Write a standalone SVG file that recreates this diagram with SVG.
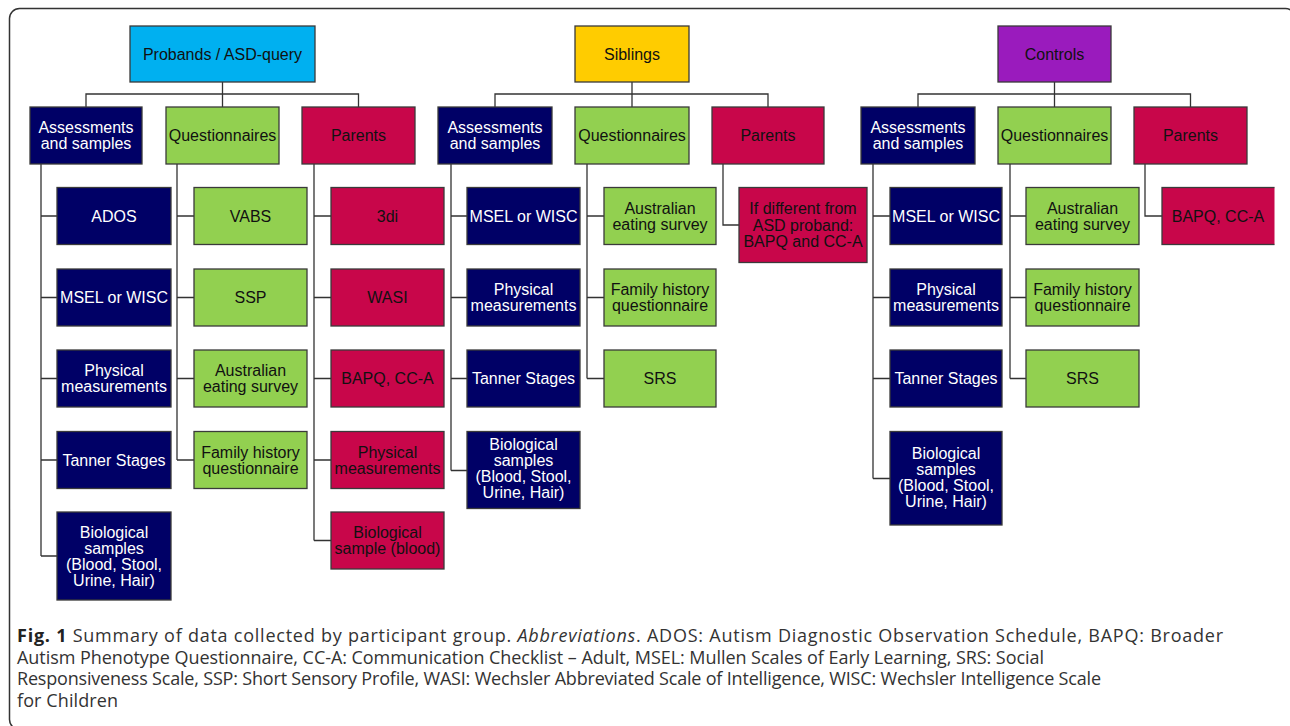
<svg xmlns="http://www.w3.org/2000/svg" width="1290" height="726" viewBox="0 0 1290 726">
<defs>
<style>
.b{stroke:#3a3a3a;stroke-width:1.3}
.top1{fill:#00B0F0}.top2{fill:#FFCC00}.top3{fill:#9A1BBD}
.nv{fill:#000066}.gr{fill:#92D050}.rd{fill:#C8064A}
text{font-family:"Liberation Sans",Arial,sans-serif;font-size:16px;text-anchor:middle}
.w{fill:#ffffff}.k{fill:#111111}
.c{fill:none;stroke:#333333;stroke-width:1.3}
.cap{font-family:"Open Sans","Noto Sans",sans-serif;font-size:18px;text-anchor:start;fill:#333333}
</style>
<clipPath id="clipR"><rect x="0" y="0" width="1274.5" height="726"/></clipPath>
</defs>
<rect x="0" y="0" width="1290" height="726" fill="#ffffff"/>
<rect x="9.5" y="8.5" width="1286" height="721" rx="10" ry="10" fill="none" stroke="#333333" stroke-width="1.5"/>

<g id="connectors" class="c">
<path d="M222.5 82V107M86 107V94H358.5V107"/>
<path d="M41 164V556M41 216H57M41 297.5H57M41 378.5H57M41 460H57M41 556H57"/>
<path d="M177 164V460M177 216H194M177 297.5H194M177 378.5H194M177 460H194"/>
<path d="M314 164V540.5M314 216H331M314 297.5H331M314 378.5H331M314 460H331M314 540.5H331"/>
<path d="M632 82V107M495 107V94H768V107"/>
<path d="M451 164V470.5M451 216H467M451 297.5H467M451 378.5H467M451 470.5H467"/>
<path d="M587 164V378.5M587 216H604M587 297.5H604M587 378.5H604"/>
<path d="M723 164V225H739"/>
<path d="M1054.5 82V107M918 107V94H1190.5V107"/>
<path d="M873 164V478.5M873 216H890M873 297.5H890M873 378.5H890M873 478.5H890"/>
<path d="M1010 164V378.5M1010 216H1026M1010 297.5H1026M1010 378.5H1026"/>
<path d="M1145 164V216H1162"/>
</g>

<!-- Probands -->
<g id="probands"><rect class="b top1" x="130" y="26" width="185" height="56"/><text class="k" x="222.5" y="59.7">Probands / ASD-query</text></g>
<g id="p-assess"><rect class="b nv" x="30" y="107" width="112" height="57"/><text class="w" x="86" y="133.2">Assessments</text><text class="w" x="86" y="149.2">and samples</text></g>
<g id="p-quest"><rect class="b gr" x="166" y="107" width="113" height="57"/><text class="k" x="222.5" y="141.2">Questionnaires</text></g>
<g id="p-parents"><rect class="b rd" x="302" y="107" width="113" height="57"/><text class="k" x="358.5" y="141.2">Parents</text></g>

<g id="p-ados"><rect class="b nv" x="57" y="187.5" width="114" height="57"/><text class="w" x="114" y="221.7">ADOS</text></g>
<g id="p-msel"><rect class="b nv" x="57" y="269" width="114" height="57"/><text class="w" x="114" y="303.2">MSEL or WISC</text></g>
<g id="p-phys"><rect class="b nv" x="57" y="350" width="114" height="57"/><text class="w" x="114" y="376.2">Physical</text><text class="w" x="114" y="392.2">measurements</text></g>
<g id="p-tanner"><rect class="b nv" x="57" y="431.5" width="114" height="57"/><text class="w" x="114" y="465.7">Tanner Stages</text></g>
<g id="p-bio"><rect class="b nv" x="57" y="512" width="114" height="88"/><text class="w" x="114" y="537.7">Biological</text><text class="w" x="114" y="553.7">samples</text><text class="w" x="114" y="569.7">(Blood, Stool,</text><text class="w" x="114" y="585.7">Urine, Hair)</text></g>

<g id="p-vabs"><rect class="b gr" x="194" y="187.5" width="113" height="57"/><text class="k" x="250.5" y="221.7">VABS</text></g>
<g id="p-ssp"><rect class="b gr" x="194" y="269" width="113" height="57"/><text class="k" x="250.5" y="303.2">SSP</text></g>
<g id="p-aes"><rect class="b gr" x="194" y="350" width="113" height="57"/><text class="k" x="250.5" y="376.2">Australian</text><text class="k" x="250.5" y="392.2">eating survey</text></g>
<g id="p-fh"><rect class="b gr" x="194" y="431.5" width="113" height="57"/><text class="k" x="250.5" y="457.7">Family history</text><text class="k" x="250.5" y="473.7">questionnaire</text></g>

<g id="p-3di"><rect class="b rd" x="331" y="187.5" width="113" height="57"/><text class="k" x="387.5" y="221.7">3di</text></g>
<g id="p-wasi"><rect class="b rd" x="331" y="269" width="113" height="57"/><text class="k" x="387.5" y="303.2">WASI</text></g>
<g id="p-bapq"><rect class="b rd" x="331" y="350" width="113" height="57"/><text class="k" x="387.5" y="384.2">BAPQ, CC-A</text></g>
<g id="p-pphys"><rect class="b rd" x="331" y="431.5" width="113" height="57"/><text class="k" x="387.5" y="457.7">Physical</text><text class="k" x="387.5" y="473.7">measurements</text></g>
<g id="p-pbio"><rect class="b rd" x="331" y="512" width="113" height="57"/><text class="k" x="387.5" y="538.2">Biological</text><text class="k" x="387.5" y="554.2">sample (blood)</text></g>

<!-- Siblings -->
<g id="siblings"><rect class="b top2" x="575" y="26" width="114" height="56"/><text class="k" x="632" y="59.7">Siblings</text></g>
<g id="s-assess"><rect class="b nv" x="438" y="107" width="114" height="57"/><text class="w" x="495" y="133.2">Assessments</text><text class="w" x="495" y="149.2">and samples</text></g>
<g id="s-quest"><rect class="b gr" x="575" y="107" width="114" height="57"/><text class="k" x="632" y="141.2">Questionnaires</text></g>
<g id="s-parents"><rect class="b rd" x="712" y="107" width="112" height="57"/><text class="k" x="768" y="141.2">Parents</text></g>

<g id="s-msel"><rect class="b nv" x="467" y="187.5" width="113" height="57"/><text class="w" x="523.5" y="221.7">MSEL or WISC</text></g>
<g id="s-phys"><rect class="b nv" x="467" y="269" width="113" height="57"/><text class="w" x="523.5" y="295.2">Physical</text><text class="w" x="523.5" y="311.2">measurements</text></g>
<g id="s-tanner"><rect class="b nv" x="467" y="350" width="113" height="57"/><text class="w" x="523.5" y="384.2">Tanner Stages</text></g>
<g id="s-bio"><rect class="b nv" x="467" y="431.5" width="113" height="77"/><text class="w" x="523.5" y="450">Biological</text><text class="w" x="523.5" y="466">samples</text><text class="w" x="523.5" y="482">(Blood, Stool,</text><text class="w" x="523.5" y="498">Urine, Hair)</text></g>

<g id="s-aes"><rect class="b gr" x="604" y="187.5" width="112" height="57"/><text class="k" x="660" y="213.7">Australian</text><text class="k" x="660" y="229.7">eating survey</text></g>
<g id="s-fh"><rect class="b gr" x="604" y="269" width="112" height="57"/><text class="k" x="660" y="295.2">Family history</text><text class="k" x="660" y="311.2">questionnaire</text></g>
<g id="s-srs"><rect class="b gr" x="604" y="350" width="112" height="57"/><text class="k" x="660" y="384.2">SRS</text></g>

<g id="s-pbapq"><rect class="b rd" x="739" y="187.5" width="128" height="75"/><text class="k" x="803" y="214">If different from</text><text class="k" x="803" y="230.5">ASD proband:</text><text class="k" x="803" y="247">BAPQ and CC-A</text></g>

<!-- Controls -->
<g id="controls"><rect class="b top3" x="998" y="26" width="113" height="56"/><text class="k" x="1054.5" y="59.7">Controls</text></g>
<g id="c-assess"><rect class="b nv" x="861" y="107" width="114" height="57"/><text class="w" x="918" y="133.2">Assessments</text><text class="w" x="918" y="149.2">and samples</text></g>
<g id="c-quest"><rect class="b gr" x="998" y="107" width="113" height="57"/><text class="k" x="1054.5" y="141.2">Questionnaires</text></g>
<g id="c-parents"><rect class="b rd" x="1134" y="107" width="113" height="57"/><text class="k" x="1190.5" y="141.2">Parents</text></g>

<g id="c-msel"><rect class="b nv" x="890" y="187.5" width="112" height="57"/><text class="w" x="946" y="221.7">MSEL or WISC</text></g>
<g id="c-phys"><rect class="b nv" x="890" y="269" width="112" height="57"/><text class="w" x="946" y="295.2">Physical</text><text class="w" x="946" y="311.2">measurements</text></g>
<g id="c-tanner"><rect class="b nv" x="890" y="350" width="112" height="57"/><text class="w" x="946" y="384.2">Tanner Stages</text></g>
<g id="c-bio"><rect class="b nv" x="890" y="431.5" width="112" height="93.5"/><text class="w" x="946" y="458.5">Biological</text><text class="w" x="946" y="474.5">samples</text><text class="w" x="946" y="490.5">(Blood, Stool,</text><text class="w" x="946" y="506.5">Urine, Hair)</text></g>

<g id="c-aes"><rect class="b gr" x="1026" y="187.5" width="113" height="57"/><text class="k" x="1082.5" y="213.7">Australian</text><text class="k" x="1082.5" y="229.7">eating survey</text></g>
<g id="c-fh"><rect class="b gr" x="1026" y="269" width="113" height="57"/><text class="k" x="1082.5" y="295.2">Family history</text><text class="k" x="1082.5" y="311.2">questionnaire</text></g>
<g id="c-srs"><rect class="b gr" x="1026" y="350" width="113" height="57"/><text class="k" x="1082.5" y="384.2">SRS</text></g>

<g id="c-pbapq" clip-path="url(#clipR)"><rect class="b rd" x="1162" y="187.5" width="114" height="57"/><text class="k" x="1218" y="221.7">BAPQ, CC-A</text></g>

<!-- Caption -->
<g id="caption">
<text class="cap" x="17" y="642" textLength="1206" lengthAdjust="spacing"><tspan font-weight="bold" fill="#222222">Fig. 1</tspan> Summary of data collected by participant group. <tspan font-style="italic">Abbreviations</tspan>. ADOS: Autism Diagnostic Observation Schedule, BAPQ: Broader</text>
<text class="cap" x="17" y="663.5" textLength="1027" lengthAdjust="spacing">Autism Phenotype Questionnaire, CC-A: Communication Checklist – Adult, MSEL: Mullen Scales of Early Learning, SRS: Social</text>
<text class="cap" x="17" y="685" textLength="1084" lengthAdjust="spacing">Responsiveness Scale, SSP: Short Sensory Profile, WASI: Wechsler Abbreviated Scale of Intelligence, WISC: Wechsler Intelligence Scale</text>
<text class="cap" x="17" y="706.5" textLength="101" lengthAdjust="spacing">for Children</text>
</g>
</svg>
